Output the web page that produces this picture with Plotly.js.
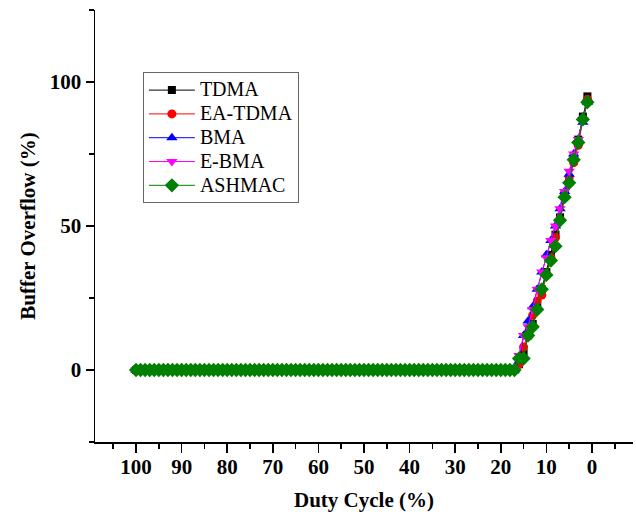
<!DOCTYPE html>
<html>
<head>
<meta charset="utf-8">
<script src="https://cdn.plot.ly/plotly-3.0.1.min.js"></script>
<style>html,body{margin:0;padding:0;background:#fff;}#chart{width:636px;height:518px;}</style>
</head>
<body>
<div id="chart"></div>
<script>
// Duty cycle (%) from 100 down to 1
const dutyCycle = [100,99,98,97,96,95,94,93,92,91,90,89,88,87,86,85,84,83,82,81,80,79,78,77,76,75,74,73,72,71,70,69,68,67,66,65,64,63,62,61,60,59,58,57,56,55,54,53,52,51,50,49,48,47,46,45,44,43,42,41,40,39,38,37,36,35,34,33,32,31,30,29,28,27,26,25,24,23,22,21,20,19,18,17,16,15,14,13,12,11,10,9,8,7,6,5,4,3,2,1];
// Flat part (duty cycle 100 .. 17): no overflow
const flatPart = [0,0,0,0,0,0,0,0,0,0,0,0,0,0,0,0,0,0,0,0,0,0,0,0,0,0,0,0,0,0,0,0,0,0,0,0,0,0,0,0,0,0,0,0,0,0,0,0,0,0,0,0,0,0,0,0,0,0,0,0,0,0,0,0,0,0,0,0,0,0,0,0,0,0,0,0,0,0,0,0,0,0,0,0];
// Rising part (duty cycle 16 .. 1)
const tdmaRise    = [2, 6, 12, 16, 22, 28, 34, 40, 47, 53, 61, 66, 73, 80, 88, 95];
const eaTdmaRise  = [2, 8, 13, 19, 24, 26, 33, 39, 46, 52, 60, 67, 72, 78, 87, 94];
const bmaRise     = [3, 12, 17, 22, 28, 34, 40, 45, 50, 56, 62, 68, 75, 80, 86, 93];
const eBmaRise    = [5, 12, 15, 21, 28, 34, 39, 45, 50, 56, 62, 69, 75, 80, 87, 93];
const ashmacRise  = [4, 4, 12, 15, 21, 28, 33, 38, 43, 52, 60, 65, 73, 79, 87, 93];

const seriesNames = ['TDMA','EA-TDMA','BMA','E-BMA','ASHMAC'];
const seriesRise = [tdmaRise, eaTdmaRise, bmaRise, eBmaRise, ashmacRise];
const colors = ['#000000','#ff0000','#0000ff','#ff00ff','#008000'];
const symbols = ['square','circle','triangle-up','triangle-down','diamond'];
const sizes = [8, 9, 10, 10, 11];

const traces = seriesNames.map((n,i)=>({
  type:'scatter', mode:'lines+markers',
  name:'<span style="font-size:20px">' + n + '</span>',
  x: dutyCycle, y: flatPart.concat(seriesRise[i]),
  line:{color:colors[i], width:1},
  marker:{symbol:symbols[i], color:colors[i], size:sizes[i], line:{width:0}}
}));

const fam = 'Liberation Serif';
const layout = {
  width:636, height:518,
  margin:{l:95, r:3, t:10, b:76},
  paper_bgcolor:'#fff', plot_bgcolor:'#fff',
  showlegend:true,
  legend:{x:0.089, y:0.856, xanchor:'left', yanchor:'top',
    bordercolor:'#666', borderwidth:1, bgcolor:'#fff',
    font:{family:fam, size:16, color:'#000'}, itemwidth:46, tracegroupgap:0},
  xaxis:{range:[109,-9], autorange:false, tickvals:[100,90,80,70,60,50,40,30,20,10,0],
    ticks:'outside', ticklen:9, tickwidth:1.5, tickcolor:'#000', ticklabelstandoff:-4,
    showline:true, linecolor:'#000', linewidth:1.5, showgrid:false, zeroline:false,
    minor:{dtick:5, tick0:0, ticks:'outside', ticklen:5, tickwidth:1.5, tickcolor:'#000', showgrid:false},
    tickfont:{family:fam, size:21, color:'#000', weight:'bold'},
    title:{text:'Duty Cycle (%)', font:{family:fam, size:21, color:'#000', weight:'bold'}, standoff:14}},
  yaxis:{range:[-25,125], autorange:false, tickvals:[0,50,100],
    ticks:'outside', ticklen:8, tickwidth:1.5, tickcolor:'#000',
    showline:true, linecolor:'#000', linewidth:1.5, showgrid:false, zeroline:false,
    minor:{dtick:25, tick0:0, ticks:'outside', ticklen:5, tickwidth:1.5, tickcolor:'#000', showgrid:false},
    tickfont:{family:fam, size:21, color:'#000', weight:'bold'},
    title:{text:'Buffer Overflow (%)', font:{family:fam, size:21, color:'#000', weight:'bold'}, standoff:8}}
};
Plotly.newPlot('chart', traces, layout, {displayModeBar:false, staticPlot:true});
</script>
</body>
</html>
